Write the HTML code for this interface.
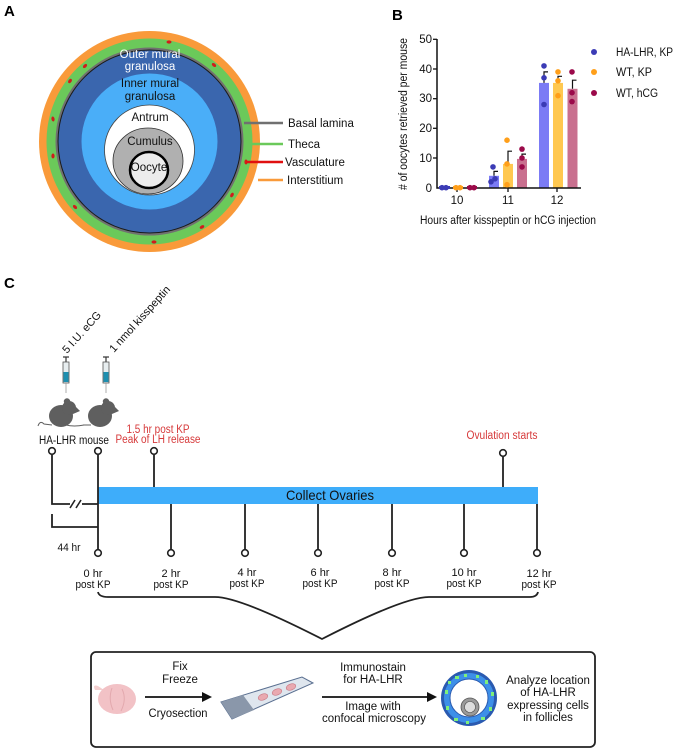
<!DOCTYPE html>
<html><head><meta charset="utf-8"><style>
html,body{margin:0;padding:0;background:#fff;}
svg{display:block;font-family:"Liberation Sans",sans-serif;}
</style></head><body>
<svg width="677" height="750" viewBox="0 0 677 750" xmlns="http://www.w3.org/2000/svg">
<text x="4" y="16" font-size="15" font-weight="bold">A</text>
<text x="392" y="20" font-size="15" font-weight="bold">B</text>
<text x="4" y="288" font-size="15" font-weight="bold">C</text>

<circle cx="149.5" cy="141.5" r="110.5" fill="#f99a3a"/>
<circle cx="149.5" cy="141.5" r="103" fill="#6bc95a"/>
<circle cx="149.5" cy="141.5" r="94" fill="#707070"/>
<circle cx="149.5" cy="141.5" r="92" fill="#1a1a1a"/>
<circle cx="149.5" cy="141.5" r="91" fill="#3a66ae"/>
<circle cx="149.5" cy="141.5" r="68" fill="#4aaef8"/>
<circle cx="149.5" cy="150" r="45" fill="#fff" stroke="#444" stroke-width="0.8"/>
<ellipse cx="148" cy="161" rx="35" ry="33" fill="#b0b0b0" stroke="#333" stroke-width="0.8"/>
<ellipse cx="149" cy="170" rx="19" ry="18" fill="#ececec" stroke="#000" stroke-width="2.5"/>
<g fill="#d01c1c">
<ellipse cx="169" cy="42" rx="2.5" ry="1.6"/>
<ellipse cx="85" cy="66" rx="2.5" ry="1.6" transform="rotate(-45 85 66)"/>
<ellipse cx="214" cy="65" rx="2.5" ry="1.6" transform="rotate(40 214 65)"/>
<ellipse cx="70" cy="81" rx="2.5" ry="1.6" transform="rotate(-55 70 81)"/>
<ellipse cx="53" cy="119" rx="2.5" ry="1.6" transform="rotate(80 53 119)"/>
<ellipse cx="53" cy="156" rx="2.5" ry="1.6" transform="rotate(90 53 156)"/>
<ellipse cx="246" cy="162" rx="2.5" ry="1.6" transform="rotate(90 246 162)"/>
<ellipse cx="232" cy="195" rx="2.5" ry="1.6" transform="rotate(-60 232 195)"/>
<ellipse cx="75" cy="207" rx="2.5" ry="1.6" transform="rotate(45 75 207)"/>
<ellipse cx="202" cy="227" rx="2.5" ry="1.6" transform="rotate(-30 202 227)"/>
<ellipse cx="154" cy="242" rx="2.5" ry="1.6"/>
</g>
<g font-size="11.5" text-anchor="middle">
<text x="150" y="58" fill="#fff">Outer mural</text>
<text x="150" y="70" fill="#fff">granulosa</text>
<text x="150" y="87" fill="#111">Inner mural</text>
<text x="150" y="100" fill="#111">granulosa</text>
<text x="150" y="121" fill="#111">Antrum</text>
<text x="150" y="145" fill="#111">Cumulus</text>
<text x="149" y="171" fill="#111">Oocyte</text>
</g>
<line x1="244" y1="123" x2="283" y2="123" stroke="#707070" stroke-width="2.5"/>
<line x1="252" y1="144" x2="283" y2="144" stroke="#6bc95a" stroke-width="2.5"/>
<line x1="246" y1="162" x2="283" y2="162" stroke="#e01010" stroke-width="2.5"/>
<line x1="258" y1="180" x2="283" y2="180" stroke="#f99a3a" stroke-width="2.5"/>
<g font-size="11.5" fill="#111">
<text x="288" y="127">Basal lamina</text>
<text x="288" y="148">Theca</text>
<text x="285" y="166">Vasculature</text>
<text x="287" y="184">Interstitium</text>
</g>

<g font-size="11.5" fill="#111" text-anchor="end">
<text x="432" y="43">50</text>
<text x="432" y="73">40</text>
<text x="432" y="102">30</text>
<text x="432" y="132">20</text>
<text x="432" y="162">10</text>
<text x="432" y="192">0</text>
</g>
<g>
<rect x="489" y="175.8" width="10" height="11.9" fill="#7b7bf5"/>
<rect x="503" y="163.9" width="10" height="23.8" fill="#ffc850"/>
<rect x="517" y="158.9" width="10" height="28.8" fill="#c9708f"/>
<rect x="539" y="82.9" width="10" height="104.8" fill="#7b7bf5"/>
<rect x="553" y="82.9" width="10" height="104.8" fill="#ffc850"/>
<rect x="567.5" y="88.8" width="10" height="98.9" fill="#c9708f"/>
</g>
<g stroke="#111" stroke-width="1.2" fill="none">
<path d="M494 175.8V171.4h4"/>
<path d="M508 163.9V151.2h4"/>
<path d="M522 158.9V154.1h4"/>
<path d="M544 82.9V71.9h4"/>
<path d="M558 82.9V76.3h4"/>
<path d="M572.5 88.8V80.2h4"/>
</g>
<path d="M437 39V188H581" stroke="#111" stroke-width="1.5" fill="none"/>
<g stroke="#111" stroke-width="1.3">
<line x1="433" y1="39.3" x2="437" y2="39.3"/><line x1="433" y1="69" x2="437" y2="69"/>
<line x1="433" y1="98.7" x2="437" y2="98.7"/><line x1="433" y1="128.3" x2="437" y2="128.3"/>
<line x1="433" y1="158" x2="437" y2="158"/>
<line x1="457" y1="188" x2="457" y2="192"/><line x1="508" y1="188" x2="508" y2="192"/><line x1="557" y1="188" x2="557" y2="192"/>
</g>
<line x1="439" y1="187.5" x2="450" y2="187.5" stroke="#3b3bb5" stroke-width="3"/>
<line x1="453" y1="187.5" x2="463" y2="187.5" stroke="#ff9f1a" stroke-width="3"/>
<line x1="467" y1="187.5" x2="477" y2="187.5" stroke="#9b0a4a" stroke-width="3"/>
<g fill="#3b3bb5">
<circle cx="442" cy="187.7" r="2.8"/><circle cx="446" cy="187.7" r="2.8"/>
<circle cx="493" cy="166.9" r="2.8"/><circle cx="495" cy="178.8" r="2.8"/><circle cx="491" cy="181.8" r="2.8"/>
<circle cx="544" cy="65.9" r="2.8"/><circle cx="544" cy="77.8" r="2.8"/><circle cx="544" cy="104.5" r="2.8"/>
<circle cx="594" cy="52" r="3"/>
</g>
<g fill="#ff9f1a">
<circle cx="456" cy="187.7" r="2.8"/><circle cx="460" cy="187.7" r="2.8"/>
<circle cx="507" cy="140.2" r="2.8"/><circle cx="507" cy="163.9" r="2.8"/><circle cx="507" cy="184.7" r="2.8"/>
<circle cx="558" cy="71.9" r="2.8"/><circle cx="558" cy="80.8" r="2.8"/><circle cx="558" cy="95.7" r="2.8"/>
<circle cx="594" cy="72" r="3"/>
</g>
<g fill="#9b0a4a">
<circle cx="470" cy="187.7" r="2.8"/><circle cx="474" cy="187.7" r="2.8"/>
<circle cx="522" cy="149.1" r="2.8"/><circle cx="522" cy="158" r="2.8"/><circle cx="522" cy="166.9" r="2.8"/>
<circle cx="572" cy="71.9" r="2.8"/><circle cx="572" cy="92.7" r="2.8"/><circle cx="572" cy="101.6" r="2.8"/>
<circle cx="594" cy="93" r="3"/>
</g>
<g font-size="11.5" fill="#111">
<text x="457" y="204" text-anchor="middle">10</text>
<text x="508" y="204" text-anchor="middle">11</text>
<text x="557" y="204" text-anchor="middle">12</text>
<text x="508" y="224" text-anchor="middle" textLength="176" lengthAdjust="spacingAndGlyphs">Hours after kisspeptin or hCG injection</text>
<text x="616" y="56" textLength="57" lengthAdjust="spacingAndGlyphs">HA-LHR, KP</text>
<text x="616" y="76" textLength="36" lengthAdjust="spacingAndGlyphs">WT, KP</text>
<text x="616" y="97" textLength="42" lengthAdjust="spacingAndGlyphs">WT, hCG</text>
<text transform="translate(407 114) rotate(-90)" text-anchor="middle" textLength="152" lengthAdjust="spacingAndGlyphs"># of oocytes retrieved per mouse</text>
</g>

<g font-size="11" fill="#111">
<text transform="translate(67 354) rotate(-48)">5 I.U. eCG</text>
<text transform="translate(114 353) rotate(-48)">1 nmol kisspeptin</text>
</g>
<g>
<g transform="translate(66 0)">
<line x1="-3" y1="357" x2="3" y2="357" stroke="#333" stroke-width="1.2"/>
<line x1="0" y1="357" x2="0" y2="362" stroke="#333" stroke-width="1.2"/>
<rect x="-3" y="362" width="6" height="21" fill="#e8eef0" stroke="#555" stroke-width="0.8"/>
<rect x="-2.5" y="372" width="5" height="10" fill="#1e8fb0"/>
<line x1="0" y1="383" x2="0" y2="393" stroke="#999" stroke-width="0.8"/>
</g>
<g transform="translate(106 0)">
<line x1="-3" y1="357" x2="3" y2="357" stroke="#333" stroke-width="1.2"/>
<line x1="0" y1="357" x2="0" y2="362" stroke="#333" stroke-width="1.2"/>
<rect x="-3" y="362" width="6" height="21" fill="#e8eef0" stroke="#555" stroke-width="0.8"/>
<rect x="-2.5" y="372" width="5" height="10" fill="#1e8fb0"/>
<line x1="0" y1="383" x2="0" y2="393" stroke="#999" stroke-width="0.8"/>
</g>
</g>
<g fill="#5f5f5f">
<g>
<path d="M38 426 Q40 420 44 424 L52 425" stroke="#5f5f5f" stroke-width="1" fill="none"/>
<ellipse cx="61" cy="416" rx="12" ry="11"/>
<circle cx="69" cy="408" r="7"/>
<circle cx="67" cy="401.5" r="3.2"/>
<path d="M74 405 L80 411 L73 414 Z"/>
<path d="M66 425 Q74 427 84 425" stroke="#5f5f5f" stroke-width="1" fill="none"/>
</g>
<g transform="translate(39 0)">
<path d="M44 425 L52 425" stroke="#5f5f5f" stroke-width="1" fill="none"/>
<ellipse cx="61" cy="416" rx="12" ry="11"/>
<circle cx="69" cy="408" r="7"/>
<circle cx="67" cy="401.5" r="3.2"/>
<path d="M74 405 L80 411 L73 414 Z"/>
</g>
</g>
<text x="74" y="444" font-size="11.5" text-anchor="middle" fill="#111" textLength="70" lengthAdjust="spacingAndGlyphs">HA-LHR mouse</text>
<g font-size="11.5" fill="#d6393a" text-anchor="middle">
<text x="158" y="433" textLength="63" lengthAdjust="spacingAndGlyphs">1.5 hr post KP</text>
<text x="158" y="443" textLength="85" lengthAdjust="spacingAndGlyphs">Peak of LH release</text>
<text x="502" y="439" textLength="71" lengthAdjust="spacingAndGlyphs">Ovulation starts</text>
</g>
<rect x="98" y="487" width="440" height="17" fill="#3eadfa"/>
<text x="330" y="500" font-size="14" text-anchor="middle" fill="#111" textLength="88" lengthAdjust="spacingAndGlyphs">Collect Ovaries</text>
<g stroke="#222" stroke-width="1.8" fill="none">
<path d="M52 455V504H98"/>
<line x1="98" y1="455" x2="98" y2="549"/>
<line x1="154" y1="455" x2="154" y2="487"/>
<line x1="503" y1="457" x2="503" y2="487"/>
<path d="M52 514V527H98"/>
<line x1="171" y1="504" x2="171" y2="549"/>
<line x1="245" y1="504" x2="245" y2="549"/>
<line x1="318" y1="504" x2="318" y2="549"/>
<line x1="392" y1="504" x2="392" y2="549"/>
<line x1="464" y1="504" x2="464" y2="549"/>
<line x1="537" y1="504" x2="537" y2="549"/>
</g>
<rect x="70" y="500" width="12" height="8" fill="#fff"/>
<g stroke="#222" stroke-width="1.6">
<line x1="70" y1="508" x2="75" y2="500"/><line x1="76" y1="508" x2="81" y2="500"/>
</g>
<g fill="#fff" stroke="#222" stroke-width="1.6">
<circle cx="52" cy="451" r="3.3"/><circle cx="98" cy="451" r="3.3"/><circle cx="154" cy="451" r="3.3"/>
<circle cx="503" cy="453" r="3.3"/>
<circle cx="98" cy="553" r="3.3"/><circle cx="171" cy="553" r="3.3"/><circle cx="245" cy="553" r="3.3"/>
<circle cx="318" cy="553" r="3.3"/><circle cx="392" cy="553" r="3.3"/><circle cx="464" cy="553" r="3.3"/>
<circle cx="537" cy="553" r="3.3"/>
</g>
<text x="69" y="551" font-size="11" text-anchor="middle" fill="#111" textLength="23" lengthAdjust="spacingAndGlyphs">44 hr</text>
<g font-size="11" text-anchor="middle" fill="#111">
<text x="93" y="577">0 hr</text><text x="93" y="588" textLength="35" lengthAdjust="spacingAndGlyphs">post KP</text>
<text x="171" y="577">2 hr</text><text x="171" y="588" textLength="35" lengthAdjust="spacingAndGlyphs">post KP</text>
<text x="247" y="576">4 hr</text><text x="247" y="587" textLength="35" lengthAdjust="spacingAndGlyphs">post KP</text>
<text x="320" y="576">6 hr</text><text x="320" y="587" textLength="35" lengthAdjust="spacingAndGlyphs">post KP</text>
<text x="392" y="576">8 hr</text><text x="392" y="587" textLength="35" lengthAdjust="spacingAndGlyphs">post KP</text>
<text x="464" y="576">10 hr</text><text x="464" y="587" textLength="35" lengthAdjust="spacingAndGlyphs">post KP</text>
<text x="539" y="577">12 hr</text><text x="539" y="588" textLength="35" lengthAdjust="spacingAndGlyphs">post KP</text>
</g>
<path d="M98 592 Q99 597 108 597 L215 597 Q240 597 322 639 Q404 597 429 597 L530 597 Q537 597 538 592" stroke="#222" stroke-width="1.8" fill="none"/>
<rect x="91" y="652" width="504" height="95" rx="5" fill="#fff" stroke="#222" stroke-width="1.8"/>
<path d="M95 690 Q92 684 98 686 L104 690 Z" fill="#f3cfcf"/>
<ellipse cx="117" cy="699" rx="19" ry="15" fill="#f2c2c6"/>
<path d="M112 688 Q108 699 113 710 M122 689 Q127 699 121 711" stroke="#e3a9ae" stroke-width="1" fill="none"/>
<g font-size="11.5" text-anchor="middle" fill="#111">
<text x="180" y="670">Fix</text>
<text x="180" y="683">Freeze</text>
<text x="178" y="717" textLength="59" lengthAdjust="spacingAndGlyphs">Cryosection</text>
<text x="373" y="671">Immunostain</text>
<text x="373" y="683">for HA-LHR</text>
<text x="373" y="710">Image with</text>
<text x="374" y="722" textLength="104" lengthAdjust="spacingAndGlyphs">confocal microscopy</text>
<text x="548" y="684">Analyze location</text>
<text x="548" y="696">of HA-LHR</text>
<text x="548" y="709">expressing cells</text>
<text x="548" y="721">in follicles</text>
</g>
<g stroke="#111" stroke-width="1.8"><line x1="145" y1="697" x2="205" y2="697"/><line x1="322" y1="697" x2="430" y2="697"/></g>
<path d="M212 697 L202 692 L202 702 Z" fill="#111"/>
<path d="M437 697 L427 692 L427 702 Z" fill="#111"/>
<path d="M221 702 L302 677 L313 683 L232 719 Z" fill="#dfe6ee" stroke="#5a6f90" stroke-width="1"/>
<path d="M221 702 L243 695 L254 710 L232 719 Z" fill="#8a97aa"/>
<g fill="#e9a9b0" stroke="#c97884" stroke-width="0.6">
<ellipse cx="263" cy="697" rx="5" ry="3" transform="rotate(-20 263 697)"/>
<ellipse cx="277" cy="692" rx="5" ry="3" transform="rotate(-20 277 692)"/>
<ellipse cx="291" cy="687" rx="5" ry="3" transform="rotate(-20 291 687)"/>
</g>
<circle cx="469" cy="698" r="28" fill="#2a5ab0"/>
<circle cx="469" cy="698" r="25" fill="#3d8fe8"/>
<circle cx="469" cy="698" r="19" fill="#fff" stroke="#2a5ab0" stroke-width="1"/>
<circle cx="470" cy="707" r="9" fill="#9a9a9a" stroke="#555" stroke-width="0.8"/>
<circle cx="470" cy="707" r="5.5" fill="#ddd" stroke="#555" stroke-width="0.6"/>
<g fill="#7ff07a">
<rect x="455" y="676" width="4" height="3"/><rect x="464" y="674" width="3" height="3"/><rect x="476" y="675" width="3" height="3"/>
<rect x="485" y="680" width="3" height="4"/><rect x="491" y="692" width="3" height="4"/><rect x="489" y="707" width="3" height="4"/>
<rect x="481" y="717" width="4" height="3"/><rect x="466" y="721" width="3" height="3"/><rect x="454" y="718" width="4" height="3"/>
<rect x="446" y="706" width="3" height="4"/><rect x="445" y="690" width="3" height="4"/><rect x="448" y="681" width="3" height="3"/>
</g>
</svg>
</body></html>
